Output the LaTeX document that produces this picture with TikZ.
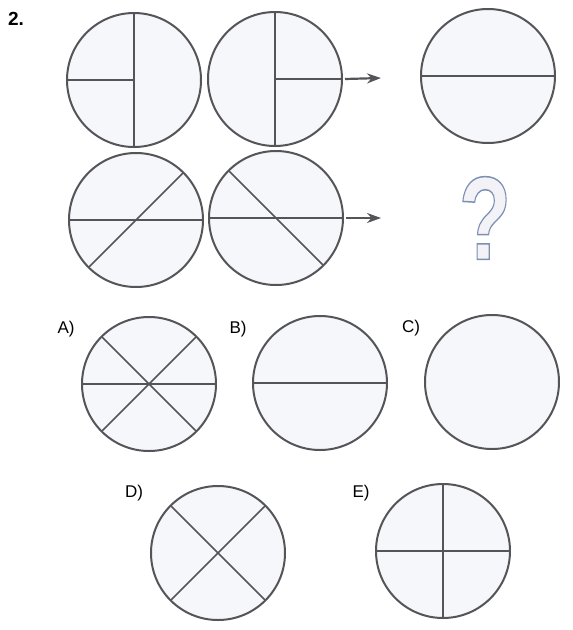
\documentclass[tikz,border=0pt]{standalone}
\usepackage{fontspec}
\setmainfont{Liberation Sans}
\usetikzlibrary{arrows.meta}
\definecolor{rim}{HTML}{555559}
\definecolor{pale}{HTML}{F6F7FB}
\definecolor{qline}{HTML}{7D8FB3}
\newcommand\hollowtext[1]{\special{pdf:literal direct 2 Tr 1.3 w 0.95 0.95 0.97 rg}#1\special{pdf:literal direct 0 Tr}}

\begin{document}
\begin{tikzpicture}[x=1pt, y=-1pt, >={Stealth[length=14pt,width=10pt]},
          every node/.style={font=\fontsize{17}{20}\selectfont},
          disc/.style={draw=rim, fill=pale, circle, line width=2pt,
                       minimum size=134pt, inner sep=0pt, outer sep=0pt},
          cut/.style={draw=rim, line width=1.7pt},
          pointer/.style={->, draw=rim, line width=2.2pt}]
        \useasboundingbox (0,0) rectangle (573,630);
        \node[font=\bfseries\fontsize{19}{20}\selectfont] (num) at (16,19) {2.};
        % first row
        \node[disc] (c1) at (134,80) {};
        \node[disc] (c2) at (275,79) {};
        \node[disc] (c3) at (488,76) {};
        \draw[cut] (c1.north) -- (c1.south);
        \draw[cut] (c1.west) -- (c1.center);
        \draw[cut] (c2.north) -- (c2.south);
        \draw[cut] (c2.center) -- (c2.east);
        \draw[cut] (c3.west) -- (c3.east);
        \coordinate (tip1) at (381,78);
        \draw[pointer] ([xshift=3pt]c2.east) -- (tip1);
        % second row
        \node[disc] (c4) at (136,220) {};
        \node[disc] (c5) at (276,218) {};
        \draw[cut] (c4.west) -- (c4.east);
        \draw[cut] (c4.45) -- (c4.225);
        \draw[cut] (c5.west) -- (c5.east);
        \draw[cut] (c5.135) -- (c5.315);
        \coordinate (tip2) at (381,218);
        \draw[pointer] ([xshift=3pt]c5.east) -- (tip2);
        \node[text=qline, font=\bfseries\fontsize{104}{110}\selectfont,
              xscale=0.82, yscale=1.14, transform shape] (ques) at (485,218)
          {\hollowtext{?}};
        % answers
        \node[disc] (ca) at (149,384) {};
        \node[disc] (cb) at (320,383) {};
        \node[disc] (cc) at (492,382) {};
        \node[disc] (cd) at (218,553) {};
        \node[disc] (ce) at (443,551) {};
        \draw[cut] (ca.west) -- (ca.east);
        \draw[cut] (ca.45) -- (ca.225);
        \draw[cut] (ca.135) -- (ca.315);
        \draw[cut] (cb.west) -- (cb.east);
        \draw[cut] (cd.45) -- (cd.225);
        \draw[cut] (cd.135) -- (cd.315);
        \draw[cut] (ce.west) -- (ce.east);
        \draw[cut] (ce.north) -- (ce.south);
        \node (la) at (66,329) {A)};
        \node (lb) at (238,329) {B)};
        \node (lc) at (411,328) {C)};
        \node (ld) at (134,493) {D)};
        \node (le) at (361,493) {E)};
\end{tikzpicture}
\end{document}
